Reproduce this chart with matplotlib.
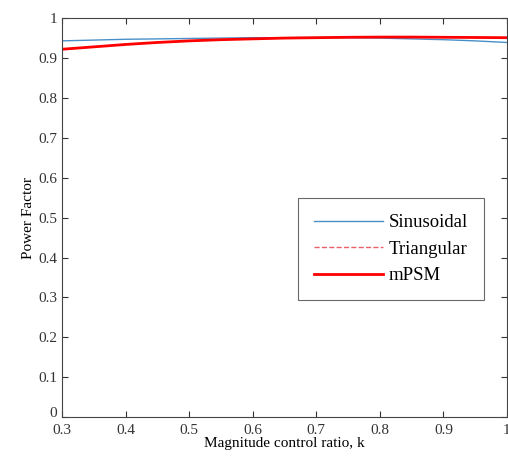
import matplotlib

matplotlib.use("Agg")
import matplotlib.pyplot as plt
import matplotlib.transforms as mtransforms
import numpy as np

plt.rcParams["font.family"] = ["Liberation Serif", "DejaVu Serif"]

k = [0.30, 0.35, 0.40, 0.45, 0.50, 0.55, 0.60, 0.65, 0.70, 0.75, 0.80, 0.85, 0.90, 0.95, 1.00]
pf_sin = [0.943, 0.945, 0.947, 0.948, 0.949, 0.950, 0.951, 0.951, 0.9515, 0.951,
          0.950, 0.948, 0.946, 0.943, 0.939]
pf_tri = [0.922, 0.928, 0.934, 0.939, 0.943, 0.946, 0.948, 0.950, 0.951, 0.952,
          0.9525, 0.9525, 0.952, 0.9515, 0.951]
pf_mpsm = [0.922, 0.928, 0.934, 0.939, 0.943, 0.946, 0.948, 0.950, 0.951, 0.952,
           0.9525, 0.9525, 0.952, 0.9515, 0.951]

xticks = [0.3, 0.4, 0.5, 0.6, 0.7, 0.8, 0.9, 1.0]
xtick_labels = ["0.3", "0.4", "0.5", "0.6", "0.7", "0.8", "0.9", "1"]
yticks = [0, 0.1, 0.2, 0.3, 0.4, 0.5, 0.6, 0.7, 0.8, 0.9, 1.0]
ytick_labels = ["0", "0.1", "0.2", "0.3", "0.4", "0.5", "0.6", "0.7", "0.8", "0.9", "1"]

fig = plt.figure(figsize=(5.08, 4.65), dpi=100)
ax = fig.add_axes([0.122, 0.103, 0.876, 0.858])

ax.plot(k, pf_sin, color="#4a90c8", linewidth=1.0, label="Sinusoidal")
ax.plot(k, pf_tri, color="#e8606a", linewidth=1.0, linestyle="--", label="Triangular")
ax.plot(k, pf_mpsm, color="#ff0000", linewidth=2.0, label="mPSM")

ax.set_xlim(0.3, 1.0)
ax.set_ylim(0, 1)
ax.set_xticks(xticks)
ax.set_xticklabels(xtick_labels)
ax.set_yticks(yticks)
ax.set_yticklabels(ytick_labels)
ax.tick_params(direction="in", top=True, right=True, labelsize=11, colors="#333333",
               length=4, width=0.8)
ax.tick_params(axis="x", pad=5)
# MATLAB-style: the y "0" sits a little above the x "0.3"
lab0 = ax.get_yticklabels()[0]
lab0.set_transform(lab0.get_transform()
                   + mtransforms.ScaledTranslation(0, 4 / 72, fig.dpi_scale_trans))
for s in ax.spines.values():
    s.set_color("#444444")
    s.set_linewidth(0.8)

ax.set_xlabel("Magnitude control ratio, k", fontsize=11, labelpad=0)
ax.set_ylabel("Power Factor", fontsize=11, labelpad=2)

leg = ax.legend(loc="upper left", bbox_to_anchor=(0.530, 0.549), fontsize=13.5,
                frameon=True, fancybox=False, handlelength=3.7, handletextpad=0.3,
                borderpad=0.85, labelspacing=0.5, borderaxespad=0)
leg.get_frame().set_edgecolor("#444444")
leg.get_frame().set_linewidth(0.8)

fig.savefig("out.png", dpi=100)
